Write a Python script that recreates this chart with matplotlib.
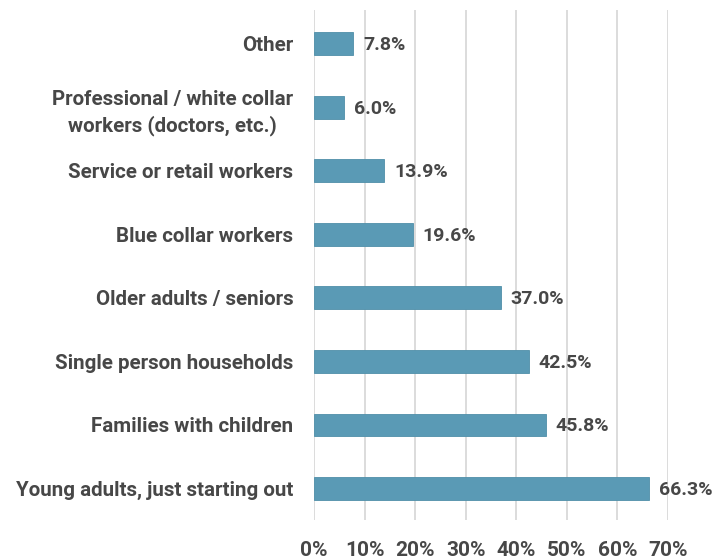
import matplotlib.pyplot as plt
import numpy as np

categories = [
    "Young adults, just starting out",
    "Families with children",
    "Single person households",
    "Older adults / seniors",
    "Blue collar workers",
    "Service or retail workers",
    "Professional / white collar\nworkers (doctors, etc.)",
    "Other",
]
shares = [66.3, 45.8, 42.5, 37.0, 19.6, 13.9, 6.0, 7.8]
xticks = [0, 10, 20, 30, 40, 50, 60, 70]

bar_color = "#5a9ab5"
text_color = "#474747"

plt.rcParams["font.family"] = ["Roboto", "DejaVu Sans"]

fig = plt.figure(figsize=(7.22, 5.6), dpi=100)
ax = fig.add_axes([0.435, 0.071, 0.49, 0.911])

y = np.arange(len(categories))
ax.barh(y, shares, height=0.36, color=bar_color, edgecolor="#4f8fa9", linewidth=0.6, zorder=3)

# value labels next to each bar
for yi, v in zip(y, shares):
    ax.text(v + 1.9, yi - 0.02, f"{v:.1f}%", va="center", ha="left",
            fontsize=14, fontweight="bold", color=text_color)

ax.set_xlim(0, 70)
ax.set_ylim(-0.5, 7.53)
ax.set_xticks(xticks)
ax.set_xticklabels([f"{t}%" for t in xticks])
ax.set_yticks(y)
ax.set_yticklabels(categories)

ax.grid(axis="x", color="#d9d9d9", linewidth=1.3, zorder=0)
ax.grid(axis="y", visible=False)
for s in ax.spines.values():
    s.set_visible(False)

ax.tick_params(axis="x", length=0, pad=15, labelsize=15, labelcolor=text_color)
ax.tick_params(axis="y", length=0, pad=15, labelsize=14.8, labelcolor=text_color)
for lbl in ax.get_xticklabels() + ax.get_yticklabels():
    lbl.set_fontweight("bold")
for lbl in ax.get_yticklabels():
    lbl.set_horizontalalignment("right")
    lbl.set_multialignment("center")
    lbl.set_linespacing(1.4)

fig.savefig("out.png", dpi=100)
